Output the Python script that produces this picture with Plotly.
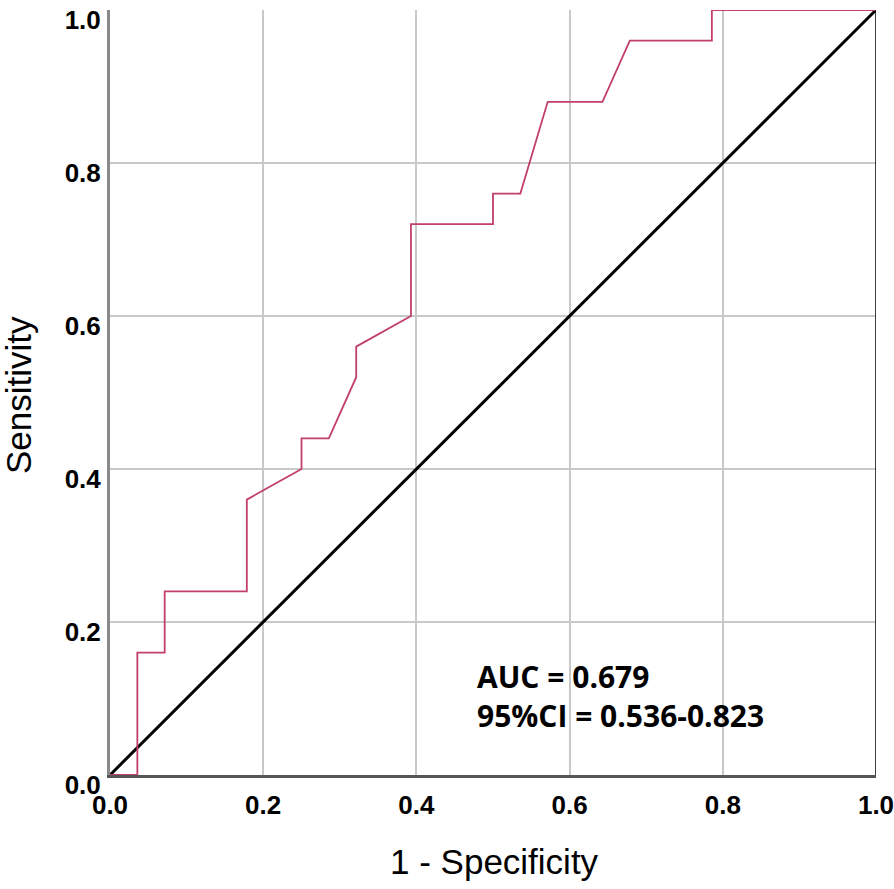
import plotly.graph_objects as go

# ROC curve points (1 - specificity, sensitivity)
fpr = [0.0, 0.0357, 0.0357, 0.0714, 0.0714, 0.1786, 0.1786, 0.25, 0.25, 0.2857,
       0.3214, 0.3214, 0.3929, 0.3929, 0.5, 0.5, 0.5357, 0.5714, 0.6429, 0.6786,
       0.7857, 0.7857, 1.0]
tpr = [0.0, 0.0, 0.16, 0.16, 0.24, 0.24, 0.36, 0.40, 0.44, 0.44,
       0.52, 0.56, 0.60, 0.72, 0.72, 0.76, 0.76, 0.88, 0.88, 0.96,
       0.96, 1.0, 1.0]
ref_x = [0.0, 1.0]
ref_y = [0.0, 1.0]
tick_vals = [0.0, 0.2, 0.4, 0.6, 0.8, 1.0]
tick_text = ["0.0", "0.2", "0.4", "0.6", "0.8", "1.0"]
auc_lines = ["AUC = 0.679", "95%CI = 0.536-0.823"]
x_title = "1 - Specificity"
y_title = "Sensitivity"

fig = go.Figure()
fig.add_trace(go.Scatter(x=ref_x, y=ref_y, mode="lines",
                         line=dict(color="black", width=3), hoverinfo="skip"))
fig.add_trace(go.Scatter(x=fpr, y=tpr, mode="lines",
                         line=dict(color="#C23F68", width=1.8)))

fig.add_shape(type="line", x0=1, x1=1, y0=0, y1=1, xref="x", yref="y",
              line=dict(color="black", width=1.5), layer="above")

fig.add_annotation(x=0.476, y=0.1033, xref="paper", yref="paper", showarrow=False,
                   text="<br>".join("<b>" + t + "</b>" for t in auc_lines),
                   xanchor="left", yanchor="middle", align="left",
                   font=dict(family="Open Sans", size=30, color="black"))

tick_font = dict(family="Liberation Sans", size=26, color="black", weight="bold")
title_font = dict(family="Liberation Sans", size=35, color="black")

# axis titles placed as annotations
fig.add_annotation(x=0.502, y=-0.1137, xref="paper", yref="paper", showarrow=False,
                   text=x_title, xanchor="center", yanchor="middle", font=title_font)
fig.add_annotation(x=-0.1201, y=0.4967, xref="paper", yref="paper", showarrow=False,
                   text=y_title, textangle=-90, xanchor="center", yanchor="middle",
                   font=title_font)

fig.update_layout(
    width=894, height=889,
    margin=dict(l=110, r=18, t=10, b=114),
    paper_bgcolor="white", plot_bgcolor="white",
    showlegend=False,
    xaxis=dict(range=[0, 1], tickvals=tick_vals, ticktext=tick_text,
               showgrid=True, gridcolor="#C8C8C8", gridwidth=1.5,
               zeroline=False, showline=True, linecolor="#555555", linewidth=3,
               layer="below traces", ticks="", ticklabelstandoff=5,
               ticklabeloverflow="allow", automargin=False,
               tickfont=tick_font),
    yaxis=dict(range=[0, 1], tickvals=tick_vals, ticktext=tick_text,
               showgrid=True, gridcolor="#C8C8C8", gridwidth=1.5,
               zeroline=False, showline=True, linecolor="#8A8A8A", linewidth=3,
               layer="below traces", ticks="", ticklabelstandoff=1,
               ticklabelshift=10, ticklabeloverflow="allow", automargin=False,
               tickfont=tick_font),
)

fig.write_html("out.html", config={"displayModeBar": False},
               post_script="document.body.style.margin='0px';")
